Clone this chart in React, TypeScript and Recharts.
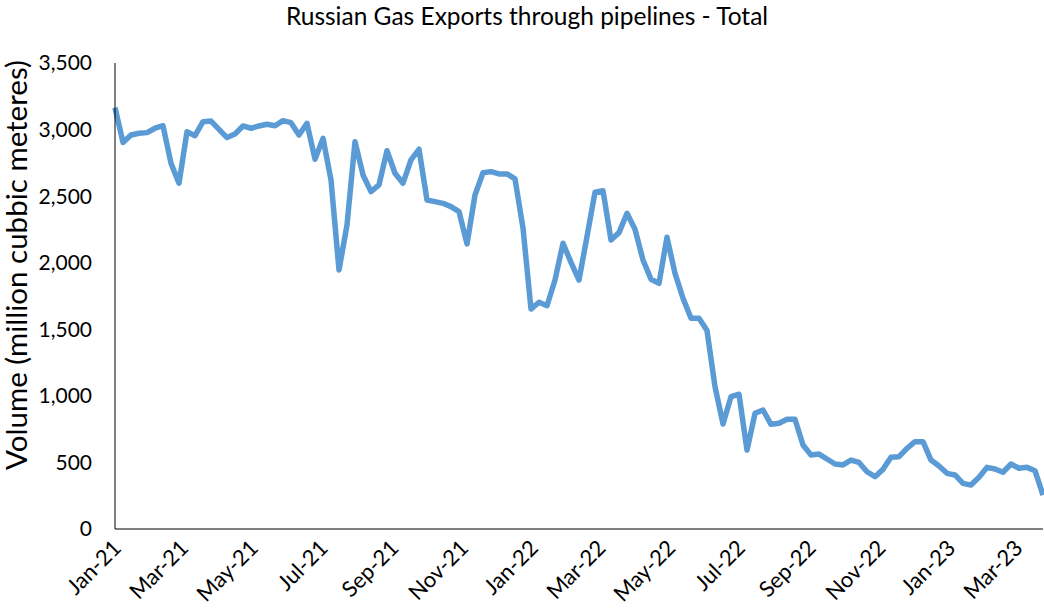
import React from "react";
import { LineChart, Line, XAxis, YAxis } from "recharts";

// Weekly pipeline exports, million cubic meters
const WEEKLY_VOLUME = [
    3165, 2904, 2959, 2972, 2977, 3010, 3029, 2747, 2597, 2984,
    2954, 3059, 3064, 3002, 2940, 2967, 3027, 3010, 3027, 3040,
    3029, 3067, 3052, 2959, 3047, 2777, 2934, 2621, 1945, 2283,
    2909, 2659, 2534, 2584, 2841, 2672, 2597, 2772, 2852, 2471,
    2459, 2446, 2421, 2384, 2141, 2509, 2676, 2684, 2667, 2667,
    2630, 2260, 1652, 1703, 1677, 1870, 2146, 2003, 1870, 2196,
    2529, 2541, 2171, 2226, 2371, 2251, 2020, 1876, 1845, 2191,
    1920, 1733, 1583, 1583, 1490, 1069, 789, 994, 1012, 593,
    869, 894, 786, 794, 824, 824, 631, 556, 563, 526,
    488, 481, 518, 500, 430, 393, 448, 539, 543, 606,
    656, 656, 518, 473, 418, 406, 343, 330, 388, 463,
    451, 426, 488, 456, 463, 438, 255,
];

const MONTHS = ["Jan", "Feb", "Mar", "Apr", "May", "Jun", "Jul", "Aug", "Sep", "Oct", "Nov", "Dec"];
const TICK_LABELS = [
    "Jan-21", "Mar-21", "May-21", "Jul-21", "Sep-21", "Nov-21", "Jan-22",
    "Mar-22", "May-22", "Jul-22", "Sep-22", "Nov-22", "Jan-23", "Mar-23",
];
const Y_TICKS = [0, 500, 1000, 1500, 2000, 2500, 3000, 3500];

const START = Date.UTC(2021, 0, 1);
const DAY_MS = 86400000;
const FONT = "Lato, 'Open Sans', sans-serif";

const labelToDay = (label: string) => {
    const [m, y] = label.split("-");
    return (Date.UTC(2000 + Number(y), MONTHS.indexOf(m), 1) - START) / DAY_MS;
};
const TICK_DAYS = TICK_LABELS.map(labelToDay);

const data = WEEKLY_VOLUME.map((volume, i) => ({ day: i * 7, volume }));

const XTick = (props: any) => {
    const { x, y, payload } = props;
    const idx = TICK_DAYS.indexOf(payload.value);
    return (
        <text
            x={x + 2}
            y={y}
            transform={`rotate(-45, ${x + 2}, ${y})`}
            textAnchor="end"
            dy="0.35em"
            fill="#000"
            fontSize={22}
            fontFamily={FONT}
        >
            {TICK_LABELS[idx]}
        </text>
    );
};

export default function App() {
    return (
        <div style={{ position: "absolute", left: 0, top: 0, width: 1044, height: 611, background: "#fff" }}>
            <div
                style={{
                    position: "absolute",
                    left: 0,
                    top: 1,
                    width: 1054,
                    textAlign: "center",
                    fontFamily: FONT,
                    fontSize: 24.5,
                    color: "#000",
                }}
            >
                Russian Gas Exports through pipelines - Total
            </div>
            <div
                style={{
                    position: "absolute",
                    left: 16,
                    top: 265,
                    transform: "translate(-50%, -50%) rotate(-90deg)",
                    whiteSpace: "nowrap",
                    fontFamily: FONT,
                    fontSize: 29.5,
                    lineHeight: "30px",
                    color: "#000",
                }}
            >
                Volume (million cubbic meteres)
            </div>
            <LineChart
                width={1044}
                height={611}
                data={data}
                margin={{ top: 63, right: 1, bottom: 0, left: 0 }}
            >
                <XAxis
                    dataKey="day"
                    type="number"
                    domain={[0, (WEEKLY_VOLUME.length - 1) * 7]}
                    ticks={TICK_DAYS}
                    tick={<XTick />}
                    tickLine={false}
                    tickSize={0}
                    tickMargin={15}
                    height={82}
                    axisLine={{ stroke: "#000", strokeWidth: 1 }}
                    interval={0}
                />
                <YAxis
                    domain={[0, 3500]}
                    ticks={Y_TICKS}
                    width={115}
                    tickLine={false}
                    tickSize={0}
                    tickMargin={23}
                    axisLine={{ stroke: "#000", strokeWidth: 1 }}
                    tick={{ fill: "#000", fontSize: 21, fontFamily: FONT }}
                    tickFormatter={(v: number) => v.toLocaleString("en-US")}
                />
                <Line
                    type="linear"
                    dataKey="volume"
                    stroke="#5B9BD5"
                    strokeWidth={5.5}
                    strokeLinejoin="round"
                    dot={false}
                    isAnimationActive={false}
                />
            </LineChart>
        </div>
    );
}
